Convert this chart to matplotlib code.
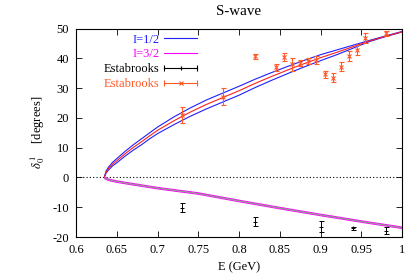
import numpy as np
import matplotlib
matplotlib.use("Agg")
import matplotlib.pyplot as plt
from matplotlib.lines import Line2D
from matplotlib.legend_handler import HandlerBase

plt.rcParams['font.family'] = ['Liberation Serif', 'DejaVu Serif']
plt.rcParams['mathtext.fontset'] = 'stix'
plt.rcParams['axes.unicode_minus'] = False
plt.rcParams['font.size'] = 9

# I=1/2 band (red centre, blue edges)
e_half  = [0.635, 0.637, 0.64, 0.645, 0.65, 0.66, 0.67, 0.68, 0.69, 0.70, 0.72, 0.74,
           0.76, 0.78, 0.80, 0.82, 0.84, 0.86, 0.88, 0.90, 0.92, 0.94, 0.96, 0.98, 1.00]
d_half  = [0.3, 1.8, 3.0, 4.5, 5.6, 7.9, 10.0, 11.9, 13.9, 15.8, 19.0, 21.9,
           24.5, 26.8, 29.1, 31.6, 33.9, 36.1, 38.2, 40.2, 42.0, 43.9, 45.8, 47.4, 48.9]
d_half_hi = [0.3, 2.2, 3.5, 5.1, 6.3, 8.7, 10.9, 12.9, 14.9, 16.9, 20.3, 23.3,
             26.0, 28.3, 30.6, 33.0, 35.2, 37.3, 39.3, 41.2, 42.8, 44.4, 46.0, 47.5, 49.0]
d_half_lo = [0.3, 1.5, 2.5, 3.9, 4.9, 7.1, 9.1, 10.9, 12.9, 14.7, 17.7, 20.5,
             23.0, 25.3, 27.6, 30.2, 32.6, 34.9, 37.1, 39.2, 41.2, 43.4, 45.6, 47.3, 48.8]

# I=3/2 band
e_3half  = [0.635, 0.64, 0.65, 0.67, 0.70, 0.75, 0.80, 0.85, 0.90, 0.95, 1.00]
d_3half  = [-0.2, -0.8, -1.4, -2.3, -3.6, -5.4, -7.9, -10.3, -12.6, -14.8, -16.9]
d_3half_hi = [-0.0, -0.55, -1.15, -2.05, -3.35, -5.15, -7.65, -10.05, -12.35, -14.55, -16.65]
d_3half_lo = [-0.4, -1.05, -1.65, -2.55, -3.85, -5.65, -8.15, -10.55, -12.85, -15.05, -17.15]

# Estabrooks data
est_e   = [0.73, 0.78, 0.82, 0.845, 0.855, 0.865, 0.875, 0.885, 0.895, 0.905,
           0.915, 0.925, 0.935, 0.945, 0.955, 0.98]
est_d   = [21.0, 27.1, 40.7, 37.0, 40.4, 38.0, 38.3, 39.1, 39.4, 34.6,
           33.5, 37.2, 40.9, 42.7, 46.8, 48.4]
est_err = [2.8, 2.8, 0.8, 1.2, 1.4, 2.2, 1.0, 1.0, 1.3, 1.2,
           1.5, 1.6, 1.7, 1.6, 1.6, 0.8]

est32_e   = [0.73, 0.82, 0.90, 0.94, 0.98]
est32_d   = [-10.2, -14.8, -16.5, -17.05, -17.85]
est32_err = [1.5, 1.5, 1.8, 0.5, 1.2]

xticks = [0.6, 0.65, 0.7, 0.75, 0.8, 0.85, 0.9, 0.95, 1.0]
xticklabels = ['0.6', '0.65', '0.7', '0.75', '0.8', '0.85', '0.9', '0.95', '1']
yticks = [-20, -10, 0, 10, 20, 30, 40, 50]

BLUE = '#2020ff'
RED = '#ff2020'
MAGENTA = '#ff00ff'
ORANGE = '#ff5a28'


class HandlerXErr(HandlerBase):
    """gnuplot style error bar key sample"""
    def __init__(self, marker, **kw):
        super().__init__(**kw)
        self.marker = marker

    def create_artists(self, legend, orig_handle, xdescent, ydescent,
                       width, height, fontsize, trans):
        c = orig_handle.get_color()
        y = height / 2 - ydescent
        x0, x1 = -xdescent, -xdescent + width
        line = Line2D([x0, x1], [y, y], color=c, lw=0.8)
        caps = Line2D([x0, x1], [y, y], ls='none', marker='|', ms=5, mew=0.8, color=c)
        mid = Line2D([(x0 + x1) / 2], [y], ls='none', marker=self.marker,
                     ms=3.5, mew=0.8, color=c)
        for a in (line, caps, mid):
            a.set_transform(trans)
        return [line, caps, mid]


fig = plt.figure(figsize=(4.08, 2.79), dpi=100)
ax = fig.add_axes([76 / 408, 1 - 237 / 279, 326 / 408, 208.5 / 279])

ax.axhline(0, color='black', lw=0.8, ls=(0, (1, 2)), zorder=1)

l1, = ax.plot(e_half, d_half_hi, color=BLUE, lw=0.8, zorder=3)
ax.plot(e_half, d_half_lo, color=BLUE, lw=0.8, zorder=3)
ax.plot(e_half, d_half, color=RED, lw=0.8, zorder=3)

l2, = ax.plot(e_3half, d_3half_hi, color=MAGENTA, lw=0.8, zorder=3)
ax.plot(e_3half, d_3half_lo, color=MAGENTA, lw=0.8, zorder=3)
ax.plot(e_3half, d_3half, color='#7f9f7f', lw=0.7, zorder=3)

ax.errorbar(est32_e, est32_d, yerr=est32_err, fmt='+', color='black', ms=3,
            mew=0.7, elinewidth=0.7, capsize=1.8, capthick=0.7, zorder=4)
ax.errorbar(est_e, est_d, yerr=est_err, fmt='x', color=ORANGE, ms=3,
            mew=0.8, elinewidth=0.8, capsize=1.8, capthick=0.8, zorder=4)

h_black = Line2D([], [], color='black')
h_orange = Line2D([], [], color=ORANGE)
leg = ax.legend([l1, l2, h_black, h_orange],
                ['I=1/2', 'I=3/2', 'Estabrooks', 'Estabrooks'],
                handler_map={h_black: HandlerXErr('+'), h_orange: HandlerXErr('x')},
                loc='upper right', bbox_to_anchor=(0.371, 0.975),
                frameon=False, markerfirst=False, borderpad=0, borderaxespad=0,
                handlelength=2.6, handletextpad=0.4, labelspacing=0.22,
                labelcolor=[BLUE, MAGENTA, 'black', ORANGE])

ax.set_xlim(0.6, 1.0)
ax.set_ylim(-20, 50)
ax.set_xticks(xticks)
ax.set_xticklabels(xticklabels)
ax.set_yticks(yticks)
ax.tick_params(direction='in', length=4, width=0.6, top=True, right=True, pad=5)
for s in ax.spines.values():
    s.set_linewidth(0.8)

ax.set_title('S-wave', pad=10)
ax.set_xlabel('E (GeV)', labelpad=4)
ax.set_ylabel(r'$\delta^{\,1}_{\,0}$    [degrees]', labelpad=4)

fig.savefig('out.png', dpi=100)
